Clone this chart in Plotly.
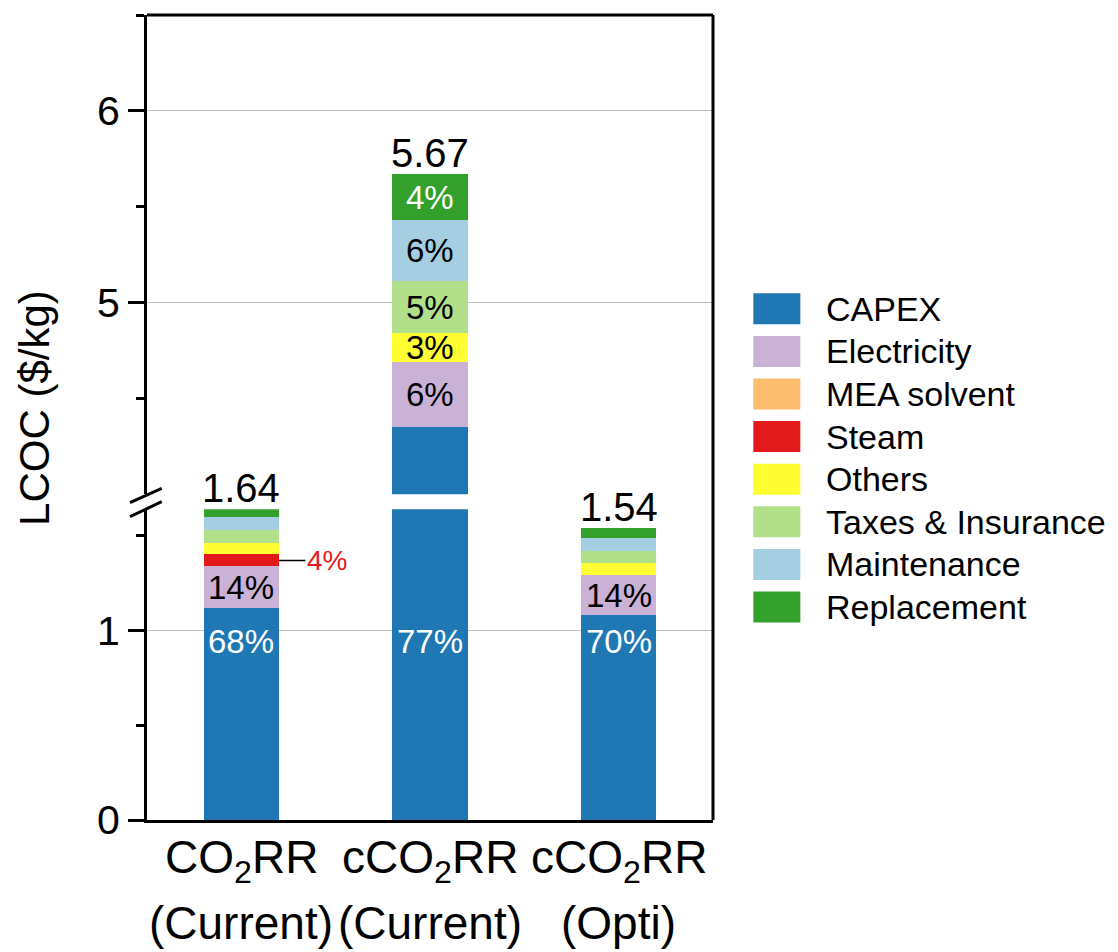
import plotly.graph_objects as go

# ---- data -------------------------------------------------------------
bar_line1 = ["CO<sub>2</sub>RR", "cCO<sub>2</sub>RR", "cCO<sub>2</sub>RR"]
bar_line2 = ["(Current)", "(Current)", "(Opti)"]
bar_pos = [0, 1, 2]

cost_items = ["CAPEX", "Electricity", "MEA solvent", "Steam", "Others",
              "Taxes & Insurance", "Maintenance", "Replacement"]
item_colors = ["#1f78b4", "#cab2d6", "#fdbf6f", "#e31a1c", "#ffff33",
               "#b2df8a", "#a6cee3", "#33a02c"]

capex = [1.115, 4.35, 1.078]
electricity = [0.225, 0.34, 0.216]
mea_solvent = [0.0, 0.0, 0.0]
steam = [0.06, 0.0, 0.0]
others = [0.062, 0.15, 0.06]
taxes_insurance = [0.066, 0.27, 0.066]
maintenance = [0.068, 0.32, 0.068]
replacement = [0.044, 0.24, 0.052]

series = [capex, electricity, mea_solvent, steam, others,
          taxes_insurance, maintenance, replacement]

# segments that carry a percentage label: (bar index, item index)
labelled = [(0, 0), (0, 1), (1, 0), (1, 1), (1, 4), (1, 5), (1, 6), (1, 7),
            (2, 0), (2, 1)]
callout = (0, 3)  # steam share of the first bar, labelled outside

# ---- geometry -----------------------------------------------------------
W, H = 1118, 952
L, R, T, B = 147, 712.7, 15, 820
LOW_TOP, UP_BOT = 509.3, 494.3
low_range = [0, 1.64]
up_range = [4, 6.5]
BAR_W = 0.4
FONT = "Arial, 'Liberation Sans', sans-serif"


def fx(px):
    return (px - L) / (R - L)


def fy(py):
    return (B - py) / (B - T)


fig = go.Figure()
for name, vals, col in zip(cost_items, series, item_colors):
    for xa, ya in (("x", "y"), ("x2", "y2")):
        fig.add_trace(go.Bar(
            x=bar_pos, y=vals, name=name, width=BAR_W,
            marker=dict(color=col, line=dict(width=0)),
            xaxis=xa, yaxis=ya, showlegend=False, hoverinfo="skip"))

totals = [round(sum(s[i] for s in series), 2) for i in range(len(bar_pos))]


def axis_for(v):
    return "y2" if v >= up_range[0] else "y"


ann = []
# totals above bars
for i, tot in enumerate(totals):
    ann.append(dict(x=bar_pos[i], y=tot, xref="x", yref=axis_for(tot),
                    text=f"{tot:.2f}", showarrow=False, yanchor="bottom",
                    yshift=-3, font=dict(size=40, color="black")))

# percentage labels inside the bars
for bi, si in labelled:
    base = sum(series[k][bi] for k in range(si))
    v = series[si][bi]
    pct = round(v / totals[bi] * 100)
    if si == 0:
        yv = 0.94
    else:
        yv = base + v / 2
    color = "white" if si in (0, 7) else "black"
    ann.append(dict(x=bar_pos[bi], y=yv, xref="x", yref=axis_for(yv),
                    text=f"{pct}%", showarrow=False, yanchor="middle",
                    font=dict(size=33, color=color)))

# steam call-out
bi, si = callout
base = sum(series[k][bi] for k in range(si))
v = series[si][bi]
ann.append(dict(x=bar_pos[bi] + BAR_W / 2, y=base + v / 2, xref="x", yref="y",
                text=f"{round(v / totals[bi] * 100)}%", showarrow=True,
                arrowhead=0, arrowwidth=1.5, arrowcolor="black",
                ax=48, ay=0, standoff=0,
                font=dict(size=28, color="#e31a1c")))

# two-line category labels
for i in range(len(bar_pos)):
    ann.append(dict(x=bar_pos[i], y=fy(860), xref="x", yref="paper",
                    text=bar_line1[i], showarrow=False, yanchor="middle",
                    font=dict(size=46, color="black")))
    ann.append(dict(x=bar_pos[i], y=fy(923), xref="x", yref="paper",
                    text=bar_line2[i], showarrow=False, yanchor="middle",
                    font=dict(size=46, color="black")))

# y-axis title
ann.append(dict(x=fx(34), y=fy(408), xref="paper", yref="paper",
                text="LCOC ($/kg)", textangle=-90, showarrow=False,
                xanchor="center", yanchor="middle",
                font=dict(size=42, color="black")))

# legend
shapes = []
for k, (name, col) in enumerate(zip(cost_items, item_colors)):
    cy = 308.8 + 42.6 * k
    shapes.append(dict(type="rect", xref="paper", yref="paper",
                       x0=fx(753), x1=fx(800), y0=fy(cy + 15.5), y1=fy(cy - 15.5),
                       fillcolor=col, line=dict(width=0)))
    ann.append(dict(x=fx(824), y=fy(cy), xref="paper", yref="paper",
                    text=name, showarrow=False, xanchor="left",
                    yanchor="middle", font=dict(size=34, color="black")))

# frame: top and right spines, axis-break marks
shapes.append(dict(type="line", xref="paper", yref="paper", x0=0, x1=1,
                   y0=1, y1=1, line=dict(color="black", width=3)))
shapes.append(dict(type="line", xref="paper", yref="paper", x0=1, x1=1,
                   y0=0, y1=1, line=dict(color="black", width=3)))
for y_a, y_b in ((502.7, 488.3), (516.7, 501.7)):
    shapes.append(dict(type="line", xref="paper", yref="paper",
                       x0=fx(130), x1=fx(161.7), y0=fy(y_a), y1=fy(y_b),
                       line=dict(color="black", width=3)))

yax_common = dict(
    showline=True, linecolor="black", linewidth=3,
    ticks="outside", ticklen=16, tickwidth=3, tickcolor="black",
    tickfont=dict(size=41, color="black", family=FONT),
    ticklabelstandoff=0,
    showgrid=True, gridcolor="#bdbdbd", gridwidth=1, zeroline=False,
)

fig.update_layout(
    width=W, height=H,
    margin=dict(l=L, r=W - R, t=T, b=H - B, pad=0),
    paper_bgcolor="white", plot_bgcolor="white",
    font=dict(family=FONT, color="black"),
    barmode="stack", bargap=0,
    xaxis=dict(domain=[0, 1], anchor="y", range=[-0.5, 2.5],
               tickvals=bar_pos, showticklabels=False, ticks="",
               showline=True, linecolor="black", linewidth=3,
               showgrid=False, zeroline=False),
    xaxis2=dict(domain=[0, 1], anchor="y2", matches="x", range=[-0.5, 2.5],
                visible=False),
    yaxis=dict(domain=[0, fy(LOW_TOP)], anchor="x", range=low_range,
               tickvals=[0, 1],
               minor=dict(tickvals=[0.5, 1.5], ticks="outside", ticklen=8,
                          tickwidth=3, tickcolor="black", showgrid=False),
               **yax_common),
    yaxis2=dict(domain=[fy(UP_BOT), 1], anchor="x2", range=up_range,
                tickvals=[5, 6],
                minor=dict(tickvals=[4.5, 5.5, 6.5], ticks="outside",
                           ticklen=8, tickwidth=3, tickcolor="black",
                           showgrid=False),
                **yax_common),
    annotations=ann,
    shapes=shapes,
)

fig.write_html("out.html")
